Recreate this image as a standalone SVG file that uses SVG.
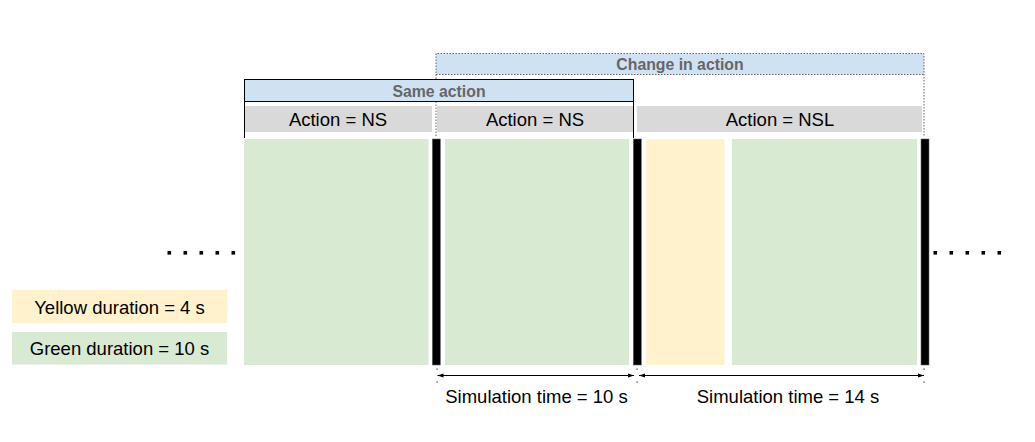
<svg xmlns="http://www.w3.org/2000/svg" width="1035" height="442" viewBox="0 0 1035 442">
<defs>
<style>
.t{font-family:"Liberation Sans",Arial,sans-serif;fill:#000;text-anchor:middle;dominant-baseline:central}
.h{font-size:18.5px}
.b{font-family:"Liberation Sans",Arial,sans-serif;font-weight:bold;font-size:15.8px;fill:#666;text-anchor:middle;dominant-baseline:central}
.g{fill:#d9ead3}
.y{fill:#fff2cc}
.gr{fill:#d9d9d9}
.bar{fill:#000;stroke:#666;stroke-width:0.6}
.dot{fill:#000}
.dl{stroke:#666;stroke-width:1;stroke-dasharray:1.5,1.5;fill:none}
.pt{fill:#333}
</style>
<marker id="ah" markerWidth="6" markerHeight="6" refX="6" refY="3" orient="auto-start-reverse" markerUnits="userSpaceOnUse">
<path d="M0,1 L6,3 L0,5 Z" fill="#000"/>
</marker>
</defs>
<rect width="1035" height="442" fill="#fff"/>

<g id="change-in-action">
<rect x="436" y="53.5" width="488" height="21" fill="#cfe2f3"/>
<path class="dl" d="M436,136 V53.5 H924 V136"/>
<line class="dl" x1="436" y1="74.5" x2="924" y2="74.5"/>
<text class="b" x="680" y="64">Change in action</text>
</g>

<g id="same-action">
<rect x="244.5" y="79.5" width="389" height="22" fill="#cfe2f3" stroke="#000" stroke-width="1"/>
<path d="M244.5,101.5 V138 M633.5,101.5 V138" stroke="#000" stroke-width="1" fill="none"/>
<text class="b" x="439" y="91">Same action</text>
</g>

<g id="action-1">
<rect class="gr" x="245" y="106" width="187" height="26"/>
<text class="t h" x="338" y="119.5">Action = NS</text>
</g>
<g id="action-2">
<rect class="gr" x="437" y="106" width="196" height="26"/>
<text class="t h" x="535" y="119.5">Action = NS</text>
</g>
<g id="action-3">
<rect class="gr" x="637" y="106" width="285" height="26"/>
<text class="t h" x="780" y="119.5">Action = NSL</text>
</g>

<g id="blocks">
<rect class="g" x="244" y="139" width="184.5" height="226"/>
<rect class="bar" x="432.3" y="139" width="8" height="226"/>
<rect class="g" x="445" y="139" width="184" height="226"/>
<rect class="bar" x="633.3" y="139" width="8" height="226"/>
<rect class="y" x="646" y="139" width="78.5" height="226"/>
<rect class="g" x="732" y="139" width="185" height="226"/>
<rect class="bar" x="921" y="139" width="8" height="226"/>
</g>

<g id="ellipsis-left">
<rect class="dot" x="167.5" y="251" width="3.6" height="3.6"/>
<rect class="dot" x="183.5" y="251" width="3.6" height="3.6"/>
<rect class="dot" x="199.5" y="251" width="3.6" height="3.6"/>
<rect class="dot" x="215.5" y="251" width="3.6" height="3.6"/>
<rect class="dot" x="231.5" y="251" width="3.6" height="3.6"/>
</g>
<g id="ellipsis-right">
<rect class="dot" x="933.5" y="251" width="3.6" height="3.6"/>
<rect class="dot" x="949.5" y="251" width="3.6" height="3.6"/>
<rect class="dot" x="965.5" y="251" width="3.6" height="3.6"/>
<rect class="dot" x="981.5" y="251" width="3.6" height="3.6"/>
<rect class="dot" x="997.5" y="251" width="3.6" height="3.6"/>
</g>

<g id="legend-yellow">
<rect class="y" x="12" y="290" width="215" height="33"/>
<text class="t h" x="119.5" y="307">Yellow duration = 4 s</text>
</g>
<g id="legend-green">
<rect class="g" x="12" y="332" width="215" height="32.5"/>
<text class="t h" x="119.5" y="348.5">Green duration = 10 s</text>
</g>

<g id="connectors">
<rect class="pt" x="436.5" y="368.5" width="1.2" height="1.2"/>
<rect class="pt" x="436.5" y="381.5" width="1.2" height="1.2"/>
<rect class="pt" x="636.5" y="368.5" width="1.2" height="1.2"/>
<rect class="pt" x="636.5" y="381.5" width="1.2" height="1.2"/>
<rect class="pt" x="923.5" y="368.5" width="1.2" height="1.2"/>
<rect class="pt" x="923.5" y="381.5" width="1.2" height="1.2"/>
<line x1="437.5" y1="375.5" x2="634" y2="375.5" stroke="#000" stroke-width="1" marker-start="url(#ah)" marker-end="url(#ah)"/>
<line x1="639" y1="375.5" x2="924" y2="375.5" stroke="#000" stroke-width="1" marker-start="url(#ah)" marker-end="url(#ah)"/>
</g>

<g id="label-sim-10">
<text class="t h" x="536.5" y="396">Simulation time = 10 s</text>
</g>
<g id="label-sim-14">
<text class="t h" x="788" y="396">Simulation time = 14 s</text>
</g>
</svg>
